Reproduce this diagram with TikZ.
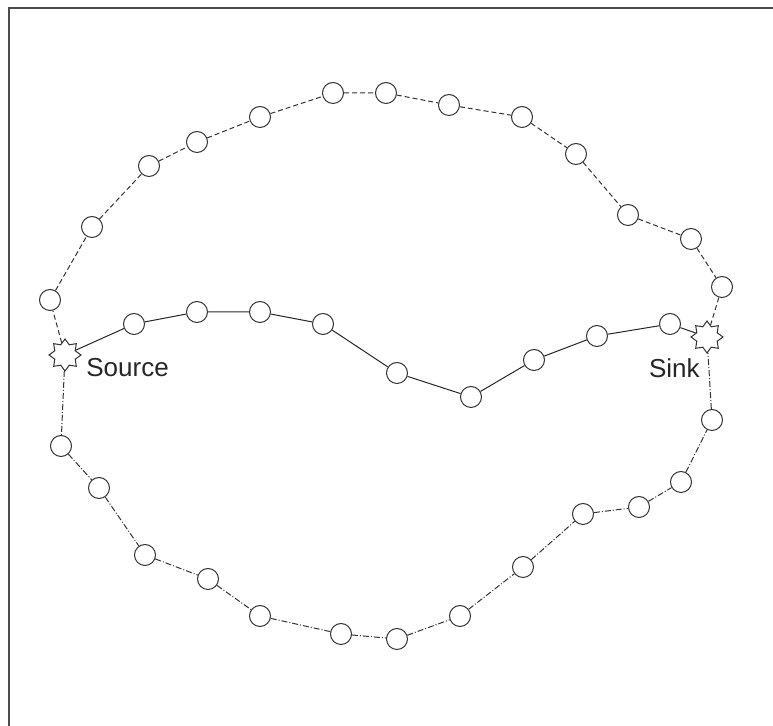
\documentclass[tikz,border=0pt]{standalone}
\usepackage{fontspec}
\setmainfont{Liberation Sans}
\usepackage{tikz}
\usetikzlibrary{shapes.geometric}
\tikzstyle{hop}=[circle,draw=black!80,fill=white,line width=0.5pt,minimum size=10.5pt,inner sep=0pt]
\tikzstyle{term}=[star,star points=8,star point ratio=1.45,draw=black!80,fill=white,line width=0.5pt,minimum size=16pt,inner sep=0pt]
\tikzstyle{upper}=[draw=black!80,line width=0.5pt,dash pattern=on 2.5pt off 1.5pt]
\tikzstyle{middle}=[draw=black!85,line width=0.5pt]
\tikzstyle{lower}=[draw=black!80,line width=0.5pt,dash pattern=on 3pt off 1pt on 0.5pt off 1pt]
\tikzstyle{lbl}=[font=\fontsize{13pt}{15pt}\selectfont,text=black!85,inner sep=0pt]

\begin{document}
\begin{tikzpicture}[x=0.5pt,y=-0.5pt]
      \useasboundingbox (0,0) rectangle (773,726);
      \draw[black!70,line width=0.9pt] (9,726) -- (9,8) -- (773,8);
      % end points
      \node[term] (src) at (65,355) {};
      \node[term] (snk) at (707,337) {};
      \node[lbl,anchor=west] (srctext) at (86,368) {Source};
      \node[lbl,anchor=east] (snktext) at (700,368) {Sink};
      % upper route
      \node[hop] (t1) at (50,300) {};
      \node[hop] (t2) at (92,227) {};
      \node[hop] (t3) at (149,166) {};
      \node[hop] (t4) at (197,142) {};
      \node[hop] (t5) at (260,117) {};
      \node[hop] (t6) at (333,93) {};
      \node[hop] (t7) at (386,93) {};
      \node[hop] (t8) at (449,105) {};
      \node[hop] (t9) at (522,117) {};
      \node[hop] (t10) at (576,154) {};
      \node[hop] (t11) at (628,215) {};
      \node[hop] (t12) at (691,239) {};
      \node[hop] (t13) at (722,287) {};
      % middle route
      \node[hop] (m1) at (134,324) {};
      \node[hop] (m2) at (197,312) {};
      \node[hop] (m3) at (260,312) {};
      \node[hop] (m4) at (323,324) {};
      \node[hop] (m5) at (397,373) {};
      \node[hop] (m6) at (471,397) {};
      \node[hop] (m7) at (534,360) {};
      \node[hop] (m8) at (597,336) {};
      \node[hop] (m9) at (670,324) {};
      % lower route
      \node[hop] (b1) at (61,446) {};
      \node[hop] (b2) at (99,488) {};
      \node[hop] (b3) at (145,555) {};
      \node[hop] (b4) at (208,579) {};
      \node[hop] (b5) at (260,616) {};
      \node[hop] (b6) at (341,634) {};
      \node[hop] (b7) at (397,639) {};
      \node[hop] (b8) at (460,616) {};
      \node[hop] (b9) at (523,567) {};
      \node[hop] (b10) at (583,514) {};
      \node[hop] (b11) at (639,507) {};
      \node[hop] (b12) at (681,482) {};
      \node[hop] (b13) at (712,420) {};
      \draw[upper] (src) -- (t1) -- (t2) -- (t3) -- (t4) -- (t5) -- (t6) -- (t7)
        -- (t8) -- (t9) -- (t10) -- (t11) -- (t12) -- (t13) -- (snk);
      \draw[middle] (src) -- (m1) -- (m2) -- (m3) -- (m4) -- (m5) -- (m6) -- (m7)
        -- (m8) -- (m9) -- (snk);
      \draw[lower] (src) -- (b1) -- (b2) -- (b3) -- (b4) -- (b5) -- (b6) -- (b7)
        -- (b8) -- (b9) -- (b10) -- (b11) -- (b12) -- (b13) -- (snk);
  \end{tikzpicture}
\end{document}
